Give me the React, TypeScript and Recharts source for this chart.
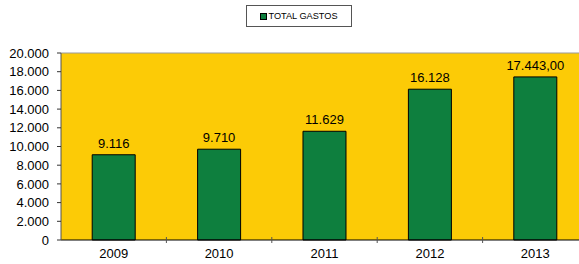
import React from "react";
import {
  BarChart,
  Bar,
  XAxis,
  YAxis,
  CartesianGrid,
  LabelList,
  Legend,
  ReferenceLine,
} from "recharts";

const years = ["2009", "2010", "2011", "2012", "2013"];
const gastos = [9116, 9710, 11629, 16128, 17443];
const gastoLabels = ["9.116", "9.710", "11.629", "16.128", "17.443,00"];
const yTicks = [0, 2000, 4000, 6000, 8000, 10000, 12000, 14000, 16000, 18000, 20000];

const data = years.map((year, i) => ({
  year,
  total: gastos[i],
  label: gastoLabels[i],
}));

const fmt = (v: number) => v.toLocaleString("de-DE");

const X_TICK_SIZE = 6;
const X_TICK_MARGIN = 3;

const LegendBox = () => (
  <div
    style={{
      width: 106,
      height: 22,
      border: "1px solid #555",
      background: "#fff",
      display: "flex",
      alignItems: "center",
      justifyContent: "center",
      fontFamily: "Liberation Sans, Arial, sans-serif",
      fontSize: 9.2,
      color: "#000",
      boxSizing: "border-box",
    }}
  >
    <span
      style={{
        display: "inline-block",
        width: 5,
        height: 5,
        background: "#0e7f3e",
        border: "1px solid #000",
        marginRight: 1,
      }}
    />
    TOTAL GASTOS
  </div>
);

// year label plus a small tick mark at the right edge of each band
const YearTick = (props: any) => {
  const { x, y, payload, index } = props;
  const half = payload?.offset ?? 0;
  const axisY = y - X_TICK_SIZE - X_TICK_MARGIN;
  return (
    <g>
      {index < years.length - 1 && half > 0 && (
        <line
          x1={x + half}
          x2={x + half}
          y1={axisY - 3}
          y2={axisY + 3}
          stroke="#555"
        />
      )}
      <text
        x={x}
        y={y}
        dy="0.71em"
        textAnchor="middle"
        fill="#000"
        fontSize={13}
      >
        {payload.value}
      </text>
    </g>
  );
};

const App = () => {
  return (
    <div
      style={{
        position: "absolute",
        left: 0,
        top: 0,
        width: 579,
        height: 264,
        overflow: "hidden",
        background: "#fff",
      }}
    >
      <BarChart
        width={600}
        height={264}
        data={data}
        margin={{ top: 31, right: 12, left: 0, bottom: 0 }}
        barCategoryGap="29.6%"
        style={{ fontFamily: "Liberation Sans, Arial, sans-serif" }}
      >
        <Legend
          verticalAlign="top"
          align="center"
          content={<LegendBox />}
          wrapperStyle={{ top: 5, left: 246, width: 106 }}
        />
        <CartesianGrid fill="#fccb06" horizontal={false} vertical={false} />
        <XAxis
          dataKey="year"
          tickLine={false}
          axisLine={{ stroke: "#000" }}
          tickSize={X_TICK_SIZE}
          tickMargin={X_TICK_MARGIN}
          tick={<YearTick />}
          interval={0}
          height={24}
        />
        <YAxis
          type="number"
          domain={[0, 20000]}
          ticks={yTicks}
          tickFormatter={fmt}
          width={61}
          tickSize={4}
          tickMargin={8}
          interval={0}
          axisLine={{ stroke: "#555" }}
          tickLine={{ stroke: "#333" }}
          tick={{ fill: "#000", fontSize: 13 }}
        />
        <ReferenceLine y={20000} stroke="#999" />
        <Bar
          dataKey="total"
          fill="#0e7f3e"
          stroke="#000"
          strokeWidth={1}
          isAnimationActive={false}
        >
          <LabelList
            dataKey="label"
            position="top"
            offset={7}
            fill="#000"
            fontSize={13}
          />
        </Bar>
      </BarChart>
    </div>
  );
};

export default App;
